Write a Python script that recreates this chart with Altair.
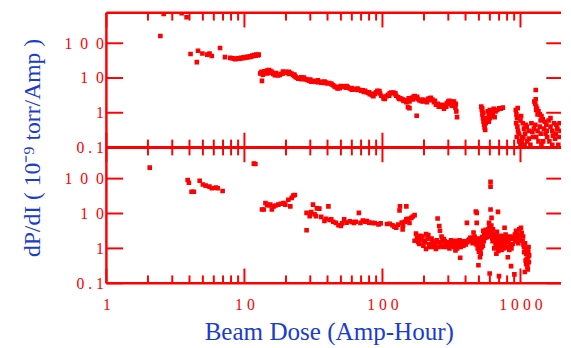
import altair as alt
import pandas as pd

RED = "#ff0000"
BLUE = "#1a3ccf"
FONT = "Liberation Serif"

W, H = 462, 275       # plot area (both panels)
HT = 137              # height of the upper panel

# ---------------- data (Beam Dose [Amp-Hour], dP/dI) ----------------
top_early = [(2.46, 162), (2.60, 700), (3.51, 740), (3.81, 560), (4.07, 49), (4.52, 28.6),
             (4.61, 61), (4.96, 51), (5.38, 47), (5.59, 51), (5.80, 43), (6.66, 73), (7.23, 40)]
top_cluster10 = [(7.9, 38), (8.2, 37), (8.4, 36), (8.6, 35), (8.8, 36), (9.0, 37), (9.2, 36),
                 (9.4, 38), (9.6, 37), (9.8, 39), (10.0, 38), (10.2, 40), (10.4, 39), (10.6, 41),
                 (10.8, 40), (11.0, 42), (11.2, 41), (11.4, 44), (11.6, 43), (11.8, 46), (12.0, 44),
                 (12.2, 47), (12.5, 45), (12.7, 47), (13.2, 13.9), (13.4, 8.3)]
top_band = [(13.0, 13.5), (13.3, 15), (13.6, 12.5), (14.0, 15.5), (14.3, 14), (14.6, 16.5),
            (15.0, 17), (15.4, 16), (15.8, 15), (16.2, 13), (16.6, 12), (17.0, 12.5), (17.5, 11.8),
            (18.0, 12.3), (18.5, 13), (19.0, 13.5), (19.5, 14.5), (20.0, 15), (20.5, 14.2),
            (21.0, 15), (21.5, 13.8), (22.0, 13.3), (22.5, 12.2), (23.0, 11.5), (23.5, 10.8),
            (24.0, 10.2), (24.6, 9.6), (25.2, 9.8), (25.8, 10.5), (26.4, 10.1), (27.0, 10.3),
            (27.6, 9.4), (28.2, 9.0), (28.8, 8.8), (29.4, 8.4), (30.0, 8.2), (30.6, 7.8),
            (31.3, 8.3), (32.0, 8.0), (32.8, 7.7), (33.6, 8.1), (34.4, 7.6), (35.2, 7.8),
            (36.0, 7.3), (37.0, 7.6), (38.0, 7.2), (39.0, 7.4), (40.0, 7.0), (41.0, 7.2),
            (42.5, 6.9), (44.0, 6.2), (45.0, 5.7), (46.0, 5.4), (47.3, 5.0), (48.5, 5.6),
            (50.0, 5.9), (51.5, 5.5), (52.8, 5.8), (54.5, 5.3), (56.0, 5.5), (58.0, 5.0),
            (60.0, 5.1), (62.2, 4.7), (64.0, 4.8), (66.0, 4.5), (68.0, 4.6), (70.0, 4.3),
            (73.3, 4.0), (75.0, 4.3), (77.0, 3.9), (79.0, 3.7), (81.0, 3.4), (84.0, 3.2),
            (86.0, 3.0), (88.0, 3.5), (90.0, 3.9), (92.0, 4.3), (93.6, 4.0), (96.0, 3.6),
            (98.0, 3.1), (101.7, 2.6), (104.0, 2.8), (107.0, 3.0), (110.0, 3.3), (113.0, 3.6),
            (116.0, 3.8), (120.0, 3.8), (123.0, 3.4), (126.0, 3.1), (130.0, 2.8), (134.0, 2.6),
            (137.0, 2.5), (141.0, 2.4), (145.0, 2.3), (149.0, 2.0), (153.0, 1.45), (157.0, 2.1),
            (160.0, 2.5), (164.0, 2.7), (168.0, 2.9), (171.0, 3.0), (175.0, 2.7), (180.0, 2.5),
            (185.0, 2.3), (190.0, 2.2), (196.0, 2.1), (202.0, 2.2), (208.0, 2.3), (214.0, 2.5),
            (220.0, 2.6), (224.0, 2.7), (230.0, 2.4), (236.0, 2.0), (244.0, 1.7), (252.0, 1.8),
            (260.0, 1.6), (268.0, 1.5), (279.0, 1.3), (286.0, 1.6), (293.0, 1.9), (300.0, 2.1),
            (307.0, 1.8), (314.0, 2.0), (320.0, 2.1), (326.0, 1.9), (332.0, 1.7), (338.0, 1.4),
            (343.0, 1.1), (347.0, 0.75), (177.0, 0.82), (157.0, 1.36)]
top_band2 = [(14.5, 13.5), (15.5, 14), (17, 13.8), (19, 15.3), (21, 13), (23, 12.6), (26, 9.3),
             (30, 9.0), (34, 8.6), (38, 7.9), (43, 6.5), (49, 5.1), (55, 5.9), (60, 4.6),
             (66, 5.0), (72, 4.4), (80, 3.9), (86, 3.5), (95, 4.2), (104, 2.5), (112, 3.1),
             (124, 3.6), (132, 2.5), (142, 2.2), (155, 2.6), (166, 2.4), (178, 2.9), (195, 2.4),
             (210, 2.0), (222, 2.3), (240, 2.2), (256, 1.5), (272, 1.7), (290, 1.5), (305, 2.2),
             (318, 1.6), (330, 2.1), (340, 1.8)]
top_late = [(520, 1.5), (525, 1.2), (530, 0.9), (535, 0.7), (540, 0.55), (545, 0.45), (550, 0.38),
            (555, 0.32), (548, 0.6), (538, 1.0), (528, 1.35), (560, 0.5), (570, 0.7), (580, 1.1),
            (590, 0.9), (600, 1.2), (610, 0.8), (620, 1.0), (640, 1.3), (660, 1.1), (680, 1.2),
            (700, 1.35), (720, 1.3), (745, 1.4), (600, 0.7), (630, 0.9), (650, 0.75), (590, 0.55),
            (955, 1.36), (925, 1.2), (935, 0.9), (945, 0.7), (930, 0.5), (950, 0.4), (960, 0.3),
            (970, 0.25), (940, 0.2), (980, 0.15), (1000, 0.12), (1020, 0.15), (1050, 0.2),
            (1080, 0.25), (1000, 0.6), (1040, 0.5), (1060, 0.35), (1090, 0.45), (1010, 0.8),
            (1030, 0.18), (1070, 0.12), (1110, 0.4), (1150, 0.3), (1200, 0.5), (1250, 0.35),
            (1300, 0.2), (1350, 0.15), (1400, 0.25), (1120, 0.15), (1180, 0.12), (1230, 0.2),
            (1280, 0.45), (1380, 0.4), (1150, 0.18), (1220, 0.28), (1330, 0.3), (1290, 4.5),
            (1290, 2.44), (1260, 2.1), (1280, 1.8), (1300, 1.5), (1320, 1.3), (1350, 1.1),
            (1380, 0.9), (1420, 0.8), (1450, 0.65), (1500, 0.55), (1540, 0.45), (1300, 1.2),
            (1330, 0.9), (1400, 0.6), (1480, 0.35), (1520, 0.25), (1560, 0.2), (1460, 0.15),
            (1420, 0.12), (1600, 0.6), (1650, 0.4), (1700, 0.3), (1750, 0.5), (1800, 0.25),
            (1850, 0.35), (1900, 0.2), (1950, 0.3), (1620, 0.15), (1700, 0.12), (1780, 0.18),
            (1880, 0.12), (1550, 0.3), (1650, 0.7), (1720, 0.22), (1820, 0.45), (1920, 0.5)]

bot_early = [(2.06, 206), (3.88, 91), (3.96, 76), (4.14, 42), (4.30, 42), (4.74, 87), (5.0, 68),
             (5.24, 63), (5.58, 59), (5.80, 53), (6.22, 55), (6.40, 53), (6.95, 44), (11.7, 270),
             (12.0, 262)]
bot_mid = [(13.4, 13), (13.8, 13), (14.2, 20), (14.6, 18), (15.0, 17), (15.4, 18), (15.8, 13),
           (16.3, 16), (16.8, 17), (17.6, 18), (18.3, 19), (19.2, 20), (19.8, 18), (20.8, 24.8),
           (21.5, 16), (22.0, 28), (22.6, 32.7), (23.2, 34), (28.2, 10.4), (28.2, 3.3), (29.7, 8.4),
           (30.5, 11), (31.4, 18), (32.2, 9.5), (33, 8.4), (33.5, 14), (34.9, 13.8), (36, 8),
           (38, 6.1), (39, 7), (40.6, 16), (41.5, 6.5), (42.5, 6.8), (44, 5.8), (46, 5.4), (48, 4.6),
           (50, 4.4), (51, 5.2), (52.8, 6.8), (55, 5.5), (58, 6), (60, 5.7), (62.2, 5.4), (64, 5.8),
           (67.5, 10.4), (69.3, 5.4), (72, 6.3), (75, 5.8), (77.3, 6.1), (80, 5.5), (84, 5.4),
           (88, 5.3), (93.6, 4.9), (97, 5.2), (108, 5.0), (113, 5.1), (118, 4.6), (122, 4.2),
           (126, 3.9), (130, 4.8), (133, 12.2), (134, 16), (138, 5.5), (141, 4.4), (145, 5.8),
           (149, 16), (149, 6.1), (149, 6.8), (153, 7.0), (157, 5.4), (162, 7.5), (166, 8.2),
           (171, 9.0), (140, 3.5)]
bot_late = [(175, 2.66), (171, 1.66), (178, 2.0), (182, 1.5), (185, 1.34), (190, 1.8), (195, 2.2),
            (200, 1.6), (207, 2.56), (207, 0.97), (212, 1.9), (218, 1.3), (224, 1.34), (230, 1.6),
            (236, 1.1), (244, 0.97), (251, 7.2), (258, 4.4), (261, 3.2), (250, 1.5), (265, 1.2),
            (272, 1.7), (279, 1.85), (286, 1.3), (295, 1.1), (303, 1.34), (310, 1.5), (318, 1.2),
            (325, 1.4), (331, 1.1), (338, 1.66), (338, 0.87), (345, 1.3), (352, 1.2), (360, 1.5),
            (366, 0.54), (372, 1.3), (380, 1.6), (390, 1.3), (398, 1.49), (409, 5.4), (420, 1.7),
            (432, 2.0), (444, 1.85), (450, 1.4), (457, 2.85), (465, 2.2), (475, 11.4), (482, 5.4),
            (482, 10.4), (480, 1.3), (490, 1.0), (496, 0.33), (509, 0.56), (500, 0.8), (515, 0.7),
            (523, 1.07), (530, 1.8), (537, 3.2), (545, 2.5), (555, 2.0), (565, 2.4), (580, 2.8),
            (592, 5.4), (600, 3.0), (607, 81), (607, 59), (607, 13), (617, 7.5), (615, 4.5),
            (598, 0.19), (625, 2.0), (632, 3.5), (643, 1.66), (650, 2.5), (660, 1.2), (669, 0.70),
            (675, 3.0), (687, 11.1), (699, 0.16), (705, 1.5), (715, 2.0), (727, 2.3), (740, 1.3),
            (755, 1.0), (767, 3.9), (767, 1.07), (780, 2.5), (795, 1.8), (810, 0.56), (820, 1.5),
            (840, 2.2), (855, 0.31), (860, 1.0), (880, 1.34), (903, 0.18), (910, 2.5), (929, 3.2),
            (950, 2.0), (980, 3.5), (1008, 3.9), (1020, 2.8), (1036, 1.66), (1050, 1.3),
            (1064, 0.78), (1076, 0.21), (1090, 1.0), (1110, 0.5), (1124, 0.97), (1124, 0.29),
            (1140, 0.8), (1156, 0.63), (1150, 0.4), (1100, 0.35)]
bot_cloud = [(188, 2.3), (198, 1.2), (203, 1.5), (215, 2.4), (220, 1.1), (227, 1.9), (233, 1.4),
             (240, 1.2), (247, 1.7), (255, 1.1), (262, 1.5), (268, 2.2), (276, 1.1), (283, 1.6),
             (290, 1.2), (298, 1.5), (306, 1.0), (314, 1.7), (322, 1.3), (328, 1.6), (335, 1.2),
             (342, 1.5), (348, 1.0), (356, 1.4), (362, 1.7), (369, 1.1), (376, 1.4), (385, 1.2),
             (393, 1.6), (402, 1.3), (412, 1.5), (425, 1.8), (438, 1.6), (448, 2.0), (460, 1.5),
             (470, 1.7), (486, 1.5), (494, 1.9), (503, 1.2), (512, 0.9), (518, 1.5), (527, 2.1),
             (534, 1.2), (542, 1.6), (550, 2.8), (560, 3.4), (570, 2.1), (585, 3.5), (590, 2.4),
             (596, 4.2), (603, 2.2), (610, 3.0), (620, 2.6), (628, 1.6), (636, 2.3), (646, 1.0),
             (655, 1.9), (664, 1.5), (672, 2.4), (680, 1.1), (690, 0.85), (698, 2.0), (710, 1.2),
             (720, 1.6), (730, 0.9), (748, 1.8), (760, 2.2), (772, 1.4), (788, 1.1), (802, 2.1),
             (815, 1.7), (830, 0.9), (845, 1.2), (866, 1.9), (890, 2.1), (920, 1.6), (940, 2.6),
             (965, 1.4), (990, 1.8), (1000, 2.4), (1045, 2.2), (1060, 1.1), (1080, 1.4),
             (1100, 0.7), (1135, 0.55), (1090, 0.45), (1120, 0.38), (1145, 1.1), (1130, 0.25)]

x_major = [1, 10, 100, 1000]
x_minor = [2, 3, 4, 5, 6, 7, 8, 9, 20, 30, 40, 50, 60, 70, 80, 90,
           200, 300, 400, 500, 600, 700, 800, 900]
y_major = [0.1, 1, 10, 100]

x_title = "Beam Dose (Amp-Hour)"
y_title = "dP/dI ( 10\u207b\u2079 torr/Amp )"

# ---------------- tables ----------------
def frame(pairs):
    return pd.DataFrame(pairs, columns=["dose", "rate"])

top_df = frame(top_early + top_cluster10 + top_band + top_band2 + top_late)
bot_df = frame(bot_early + bot_mid + bot_late + bot_cloud)
xmaj_df = pd.DataFrame({"v": x_major})
xmin_df = pd.DataFrame({"v": x_minor})
ymaj_df = pd.DataFrame({"v": y_major})

# ---------------- scales ----------------
XMAX = 10 ** (W / 140.26)
xsc = alt.Scale(type="log", domain=[1, XMAX], nice=False)
ysc_top = alt.Scale(type="log", domain=[0.1, 760], range=[HT, 0], nice=False)
ysc_bot = alt.Scale(type="log", domain=[0.1, 780], range=[H, HT], nice=False)

y_label_expr = ("datum.value < 1 ? join(split(datum.label, ''), '\u2005') "
                ": join(split(datum.label, ''), '\u2002')")
x_label_expr = "join(split(datum.label, ''), '\u2005')"

top_axis = alt.Axis(orient="left", values=y_major, format="~g", ticks=False, domain=False,
                    grid=False, labelColor=RED, labelFont=FONT, labelFontSize=16,
                    labelPadding=3, labelFlush=False, labelOverlap=False,
                    labelExpr=y_label_expr,
                    title=y_title, titleColor=BLUE, titleFont=FONT, titleFontSize=24,
                    titleFontWeight="normal", titleAngle=270, titleX=-68, titleY=HT,
                    titleBaseline="alphabetic", titleAlign="center")
bot_axis = alt.Axis(orient="left", values=y_major, format="~g", ticks=False, domain=False,
                    grid=False, labelColor=RED, labelFont=FONT, labelFontSize=16,
                    labelPadding=3, labelFlush=False, labelOverlap=False,
                    labelExpr=y_label_expr, title=None)
x_axis = alt.Axis(orient="bottom", values=x_major, format="~g", ticks=False, tickSize=0,
                  domain=False, grid=False, labelColor=RED, labelFont=FONT, labelFontSize=16,
                  labelPadding=14, labelFlush=False, labelOverlap=False,
                  labelExpr=x_label_expr,
                  title=x_title, titleColor=BLUE, titleFont=FONT, titleFontSize=25.5,
                  titleFontWeight="normal", titleX=226, titleY=57,
                  titleBaseline="alphabetic", titleAlign="center")

pts_bot = alt.Chart(bot_df).mark_square(size=22, color=RED, opacity=1, clip=True).encode(
    x=alt.X("dose:Q", scale=xsc, axis=x_axis),
    y=alt.Y("rate:Q", scale=ysc_bot, axis=bot_axis),
)
pts_top = alt.Chart(top_df).mark_square(size=22, color=RED, opacity=1, clip=True).encode(
    x=alt.X("dose:Q", scale=xsc, axis=x_axis),
    y=alt.Y("rate:Q", scale=ysc_top, axis=top_axis),
)

layers = [pts_bot, pts_top]

# y ticks (inward, left and right) for both panels
for ysc in (ysc_top, ysc_bot):
    for xa, xb in ((0, 17), (W - 15, W)):
        layers.append(
            alt.Chart(ymaj_df).mark_rule(color=RED, strokeWidth=2).encode(
                y=alt.Y("v:Q", scale=ysc, axis=None),
                x=alt.value(xa), x2=alt.value(xb))
        )

# x ticks (inward) on each horizontal frame line
for df, ln in ((xmaj_df, 15), (xmin_df, 8)):
    for ya, yb in ((0, ln), (HT - ln, HT), (HT, HT + ln), (H - ln, H)):
        layers.append(
            alt.Chart(df).mark_rule(color=RED, strokeWidth=2).encode(
                x=alt.X("v:Q", scale=xsc, axis=x_axis),
                y=alt.value(ya), y2=alt.value(yb))
        )

# frame lines (no right border visible in the original)
one = alt.Data(values=[{"k": 0}])
layers.append(alt.Chart(one).mark_rule(color=RED, strokeWidth=2.5).encode(
    x=alt.value(0), y=alt.value(0), y2=alt.value(H)))
for yy, sw in ((0, 2.5), (HT, 3), (H, 2.5)):
    layers.append(alt.Chart(one).mark_rule(color=RED, strokeWidth=sw).encode(
        y=alt.value(yy), x=alt.value(0), x2=alt.value(W)))

chart = alt.layer(*layers).resolve_scale(y="independent").properties(
    width=W, height=H,
    padding={"left": 12, "top": 0, "right": 0, "bottom": 0},
    background="white",
).configure_view(stroke=None)

chart.save("out.html", embed_options={"renderer": "svg", "actions": False})
